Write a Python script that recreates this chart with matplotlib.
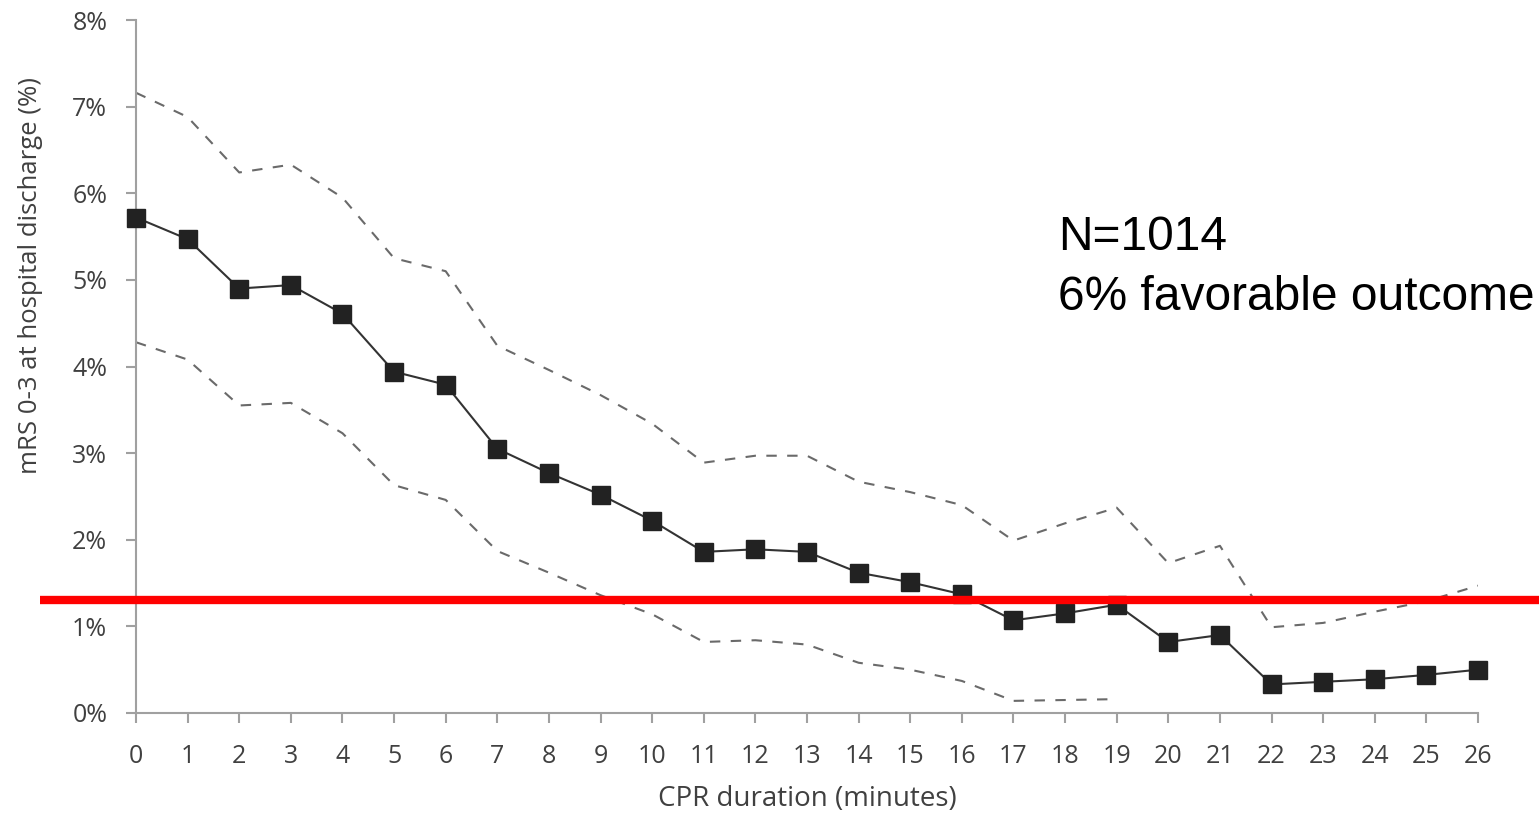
import numpy as np
import matplotlib
matplotlib.use("Agg")
import matplotlib.pyplot as plt
from matplotlib.transforms import blended_transform_factory

# CPR duration (minutes) and outcome estimates (%)
minutes = list(range(27))
estimate = [5.72, 5.47, 4.90, 4.94, 4.61, 3.94, 3.79, 3.05, 2.77, 2.52, 2.22,
            1.86, 1.89, 1.86, 1.62, 1.51, 1.37, 1.07, 1.15, 1.25, 0.82, 0.90,
            0.33, 0.36, 0.39, 0.44, 0.50]
upper_ci = [7.16, 6.88, 6.24, 6.33, 5.95, 5.25, 5.10, 4.24, 3.96, 3.67, 3.34,
            2.89, 2.97, 2.97, 2.67, 2.55, 2.40, 1.99, 2.19, 2.37, 1.73, 1.93,
            0.99, 1.04, 1.17, 1.29, 1.47]
lower_minutes = list(range(20))
lower_ci = [4.28, 4.08, 3.55, 3.58, 3.23, 2.63, 2.46, 1.87, 1.62, 1.36, 1.14,
            0.82, 0.84, 0.79, 0.58, 0.50, 0.37, 0.14, 0.15, 0.16]
threshold = 1.30
yticks = [0, 1, 2, 3, 4, 5, 6, 7, 8]

W, H = 1539, 815
fig = plt.figure(figsize=(W / 100, H / 100), dpi=100)
ax = fig.add_axes([136 / W, 1 - 713 / H, (1478 - 136) / W, (713 - 20) / H])

tick_col = "#404040"
spine_col = "#a0a0a0"

ax.plot(minutes, upper_ci, color="#6a6a6a", lw=1.5, dashes=(5, 5))
ax.plot(lower_minutes, lower_ci, color="#6a6a6a", lw=1.5, dashes=(5, 5))
ax.plot(minutes, estimate, color="#333333", lw=1.5, marker="s", ms=13,
        mfc="#222222", mec="#222222", zorder=3, clip_on=False)

# red reference line running across the figure
tr = blended_transform_factory(fig.transFigure, ax.transData)
ax.plot([40 / W, 1.0], [threshold, threshold], color="#ff0000", lw=6,
        transform=tr, clip_on=False, zorder=4, solid_capstyle="butt")

ax.set_xlim(0, 26)
ax.set_ylim(0, 8)
ax.set_xticks(minutes)
ax.set_yticks(yticks)
ax.set_yticklabels([f"{v}%" for v in yticks])

for s in ["top", "right"]:
    ax.spines[s].set_visible(False)
for s in ["left", "bottom"]:
    ax.spines[s].set_color(spine_col)
    ax.spines[s].set_linewidth(1.5)

ax.tick_params(axis="both", direction="out", length=7.2, width=1.5,
               color=spine_col, labelcolor=tick_col, labelsize=18)
ax.tick_params(axis="x", pad=15)
ax.tick_params(axis="y", pad=13.5)
for lab in ax.get_xticklabels() + ax.get_yticklabels():
    lab.set_fontfamily("Open Sans")

ax.set_xlabel("CPR duration (minutes)", fontsize=20, color=tick_col,
              family="Open Sans", labelpad=12)
ax.set_ylabel("mRS 0-3 at hospital discharge (%)", fontsize=18.5,
              color=tick_col, family="Open Sans")
ax.yaxis.set_label_coords((43 - 136) / 1342, (713 - 276) / 693)

fig.text(1058 / W, 1 - 250 / H, "N=1014", fontsize=34.5, family="Liberation Sans",
         color="black", va="baseline", ha="left")
fig.text(1058 / W, 1 - 310 / H, "6% favorable outcome", fontsize=34.5,
         family="Liberation Sans", color="black", va="baseline", ha="left")

fig.savefig("out.png", dpi=100)
